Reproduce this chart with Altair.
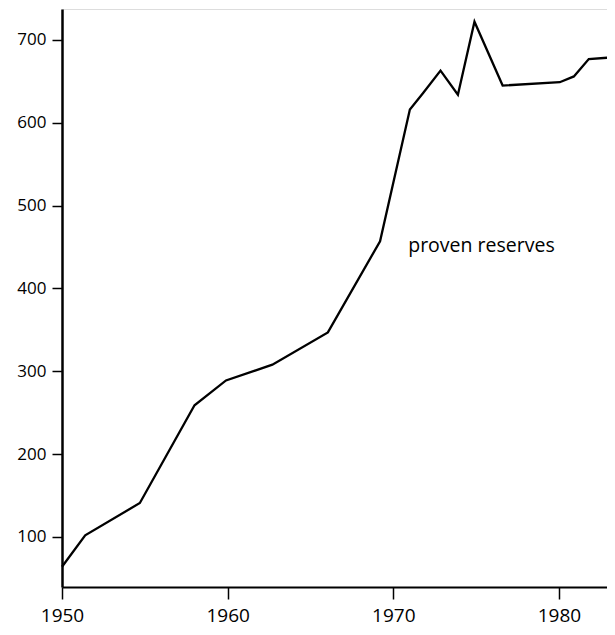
import altair as alt
import pandas as pd

years = [1950.0, 1951.4, 1954.7, 1958.0, 1959.9, 1962.7, 1966.05, 1969.2,
         1971.0, 1971.8, 1972.85, 1973.9, 1974.9, 1976.6, 1980.05, 1980.9,
         1981.8, 1983.2]
reserves = [64, 102, 141, 259, 289, 308, 347, 457, 616, 636, 663, 634, 722,
            645, 649, 656, 677, 679]

x_ticks = [1950, 1960, 1970, 1980]
y_ticks = [100, 200, 300, 400, 500, 600, 700]

label_text = ["proven reserves"]
label_x = [1970.9]
label_y = [451]

df = pd.DataFrame({"year": years, "reserves": reserves})
lab = pd.DataFrame({"year": label_x, "reserves": label_y, "text": label_text})

FONT = "Open Sans"

x = alt.X("year:Q",
          scale=alt.Scale(domain=[1950, 1982.9], nice=False, zero=False),
          axis=alt.Axis(values=x_ticks, format="d", title=None, grid=False,
                        domainColor="black", domainWidth=2, tickColor="black",
                        tickWidth=1.5, tickSize=12, labelFont=FONT,
                        labelFontSize=19, labelColor="black", labelPadding=7,
                        labelFlush=False))
y = alt.Y("reserves:Q",
          scale=alt.Scale(domain=[39.6, 737.4], nice=False, zero=False),
          axis=alt.Axis(values=y_ticks, title=None, grid=False,
                        domainColor="black", domainWidth=2.5, tickColor="black",
                        tickWidth=1.5, tickSize=10, labelFont=FONT,
                        labelFontSize=17, labelColor="black", labelPadding=6))

line = alt.Chart(df).mark_line(color="black", strokeWidth=2.3).encode(x=x, y=y)

text = alt.Chart(lab).mark_text(align="left", baseline="middle", font=FONT,
                                fontSize=19.5, color="black").encode(
    x=alt.X("year:Q"), y=alt.Y("reserves:Q"), text="text:N")

chart = (line + text).properties(
    width=545, height=578,
    autosize=alt.AutoSizeParams(type="none"),
    padding={"left": 54, "top": 1, "right": 0, "bottom": 40},
).configure_view(stroke=None).configure(background="white")

chart.save("out.html", embed_options={"renderer": "svg", "actions": False})
